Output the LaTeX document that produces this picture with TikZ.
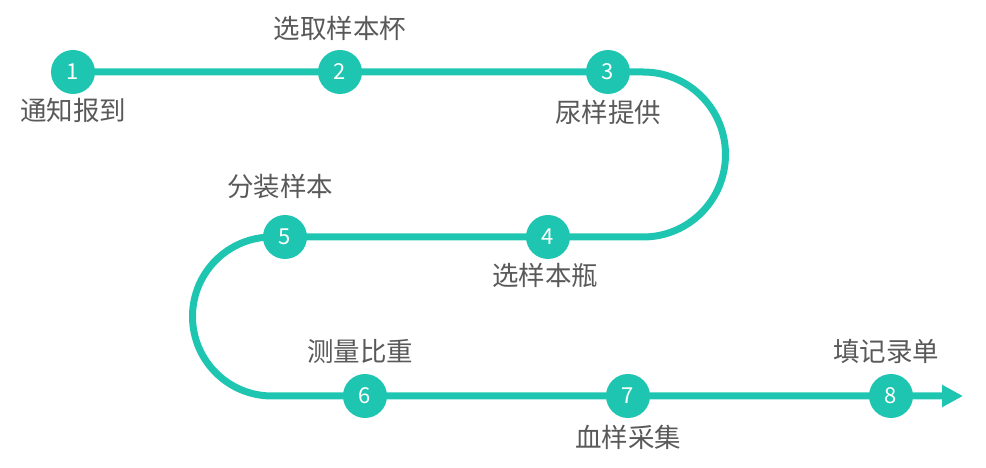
\documentclass[tikz,border=0pt]{standalone}
\usepackage{fontspec}
\setmainfont{Noto Sans CJK SC}
\usepackage{tikz}
\usetikzlibrary{arrows.meta,backgrounds}
\definecolor{teal1}{RGB}{30,198,178}
\definecolor{txtgray}{RGB}{89,89,89}

\begin{document}
\begin{tikzpicture}[x=1pt,y=1pt,
  stepdot/.style={circle,fill=teal1,minimum size=44pt,inner sep=0pt,
    text=white,font=\fontsize{22}{26}\selectfont},
  steplabel/.style={text=txtgray,font=\fontsize{26.5}{30}\selectfont,inner sep=0pt},
  flow/.style={teal1,line width=7pt}]
\useasboundingbox (0,0) rectangle (986,468);
% row one
\node[stepdot] (n1) at (73,396) {1};
\node[stepdot] (n2) at (340,396) {2};
\node[stepdot] (n3) at (608,396) {3};
% row two
\node[stepdot] (n4) at (548,231) {4};
\node[stepdot] (n5) at (285,231) {5};
% row three
\node[stepdot] (n6) at (365,72) {6};
\node[stepdot] (n7) at (628,72) {7};
\node[stepdot] (n8) at (891,72) {8};
\coordinate (r1) at (643,396);
\coordinate (l1) at (272,231);
\coordinate (tip) at (963,72);
% labels
\node[steplabel] (t1) at (73,358) {通知报到};
\node[steplabel] (t2) at (340,440) {选取样本杯};
\node[steplabel] (t3) at (608,356) {尿样提供};
\node[steplabel] (t4) at (545,193) {选样本瓶};
\node[steplabel] (t5) at (280,282) {分装样本};
\node[steplabel] (t6) at (360,117) {测量比重};
\node[steplabel] (t7) at (628,31) {血样采集};
\node[steplabel] (t8) at (886,117) {填记录单};
\begin{scope}[on background layer]
\draw[flow,-{Triangle[length=21pt,width=21pt]}] (n1.center) -- (r1)
  arc[start angle=90,end angle=-90,radius=82.5] -- (l1)
  arc[start angle=90,end angle=270,radius=79.5] -- (tip);
\end{scope}
\end{tikzpicture}
\end{document}
